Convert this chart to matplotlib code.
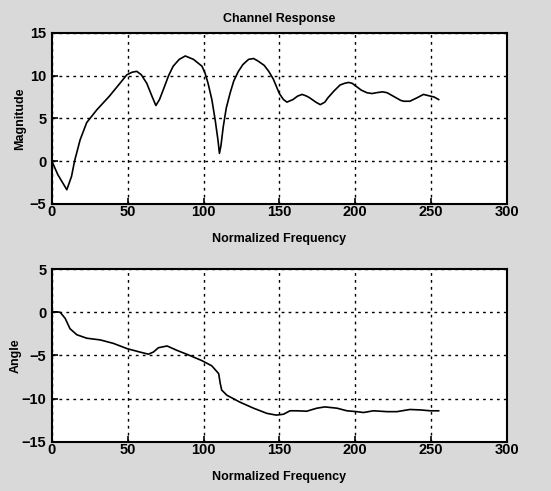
import numpy as np
import matplotlib.pyplot as plt

plt.rcParams['font.family'] = ['Liberation Sans', 'DejaVu Sans']
plt.rcParams['font.weight'] = 'bold'

# magnitude curve
mag_x = [0, 4, 9.9, 13, 15, 18.7, 23, 29.7, 38, 44, 49.5, 53, 56, 59, 62.6, 66, 68.6, 71, 73.6, 77, 80, 84, 88,
         93.4, 99, 101, 103, 105.5, 107.7, 109.5, 110.5, 111.5, 113, 115, 117.6, 120, 123, 126, 129.7, 133, 136,
         140, 143, 146, 148, 150, 152.7, 155, 159, 162, 165, 168, 170, 174, 177, 180, 182, 186, 190, 193, 195.6,
         198, 201, 204, 207.7, 211, 214, 218, 221, 224, 227, 230, 232, 236, 240.7, 245, 249.5, 252, 255]
mag_y = [0, -1.6, -3.36, -1.8, 0, 2.5, 4.5, 6, 7.6, 8.9, 10.1, 10.4, 10.5, 10.1, 9.1, 7.6, 6.5, 7.2, 8.4, 10.0,
         11.1, 11.9, 12.3, 11.9, 11.1, 10.3, 9.1, 7.2, 4.8, 2.5, 0.9, 1.8, 4, 6.2, 8, 9.4, 10.5, 11.3, 11.9, 12.0,
         11.7, 11.2, 10.5, 9.6, 8.75, 7.9, 7.2, 6.9, 7.2, 7.6, 7.8, 7.6, 7.4, 6.9, 6.6, 6.9, 7.4, 8.2, 8.9, 9.1,
         9.2, 9.1, 8.7, 8.3, 8.0, 7.9, 8.0, 8.1, 8.0, 7.7, 7.4, 7.1, 7.0, 7.0, 7.4, 7.8, 7.6, 7.5, 7.2]

# angle curve
ang_x = [0, 3, 5.5, 8.8, 12, 16.5, 23, 32, 40.6, 49.5, 58, 63.7, 67, 70.3, 76, 82.4, 91, 99, 105.5, 110, 111,
         112, 115.4, 124, 133, 141.8, 148, 152.7, 157, 161.5, 168, 174.7, 180, 188, 194.5, 201, 205.5, 212, 221,
         227.5, 236, 243, 249.5, 255]
ang_y = [0, 0.05, 0, -0.7, -1.9, -2.6, -3.0, -3.2, -3.6, -4.2, -4.6, -4.85, -4.6, -4.1, -3.9, -4.4, -5.0, -5.6,
         -6.2, -7.1, -8.2, -9.0, -9.6, -10.4, -11.1, -11.7, -11.9, -11.8, -11.4, -11.4, -11.45, -11.1, -10.95,
         -11.1, -11.4, -11.5, -11.6, -11.4, -11.5, -11.5, -11.25, -11.3, -11.4, -11.4]

xticks = [0, 50, 100, 150, 200, 250, 300]
mag_ticks = [-5, 0, 5, 10, 15]
ang_ticks = [-15, -10, -5, 0, 5]

fig = plt.figure(figsize=(5.51, 4.91), dpi=100, facecolor='#d9d9d9')
ax1 = fig.add_axes([0.094, 0.585, 0.826, 0.348])
ax2 = fig.add_axes([0.094, 0.100, 0.826, 0.352])

for ax, xs, ys, yt, lab, lx in [(ax1, mag_x, mag_y, mag_ticks, 'Magnitude', -0.057),
                                (ax2, ang_x, ang_y, ang_ticks, 'Angle', -0.066)]:
    ax.plot(xs, ys, color='black', lw=1.2)
    ax.set_xlim(0, 300)
    ax.set_ylim(yt[0], yt[-1])
    ax.set_xticks(xticks)
    ax.set_yticks(yt)
    ax.grid(True, color='black', linestyle=(0, (2, 3)), lw=1.0)
    ax.tick_params(direction='in', length=4, width=1.2, labelsize=10.5, colors='black')
    ax.tick_params(axis='x', pad=1)
    ax.tick_params(axis='y', pad=4)
    for s in ax.spines.values():
        s.set_linewidth(1.5)
    ax.set_xlabel('Normalized Frequency', fontsize=9, fontweight='bold', labelpad=10)
    ax.set_ylabel(lab, fontsize=9, fontweight='bold')
    ax.yaxis.set_label_coords(lx, 0.5)

ax1.set_title('Channel Response', fontsize=9, fontweight='bold', pad=8)

fig.savefig('out.png', dpi=100, facecolor=fig.get_facecolor())
